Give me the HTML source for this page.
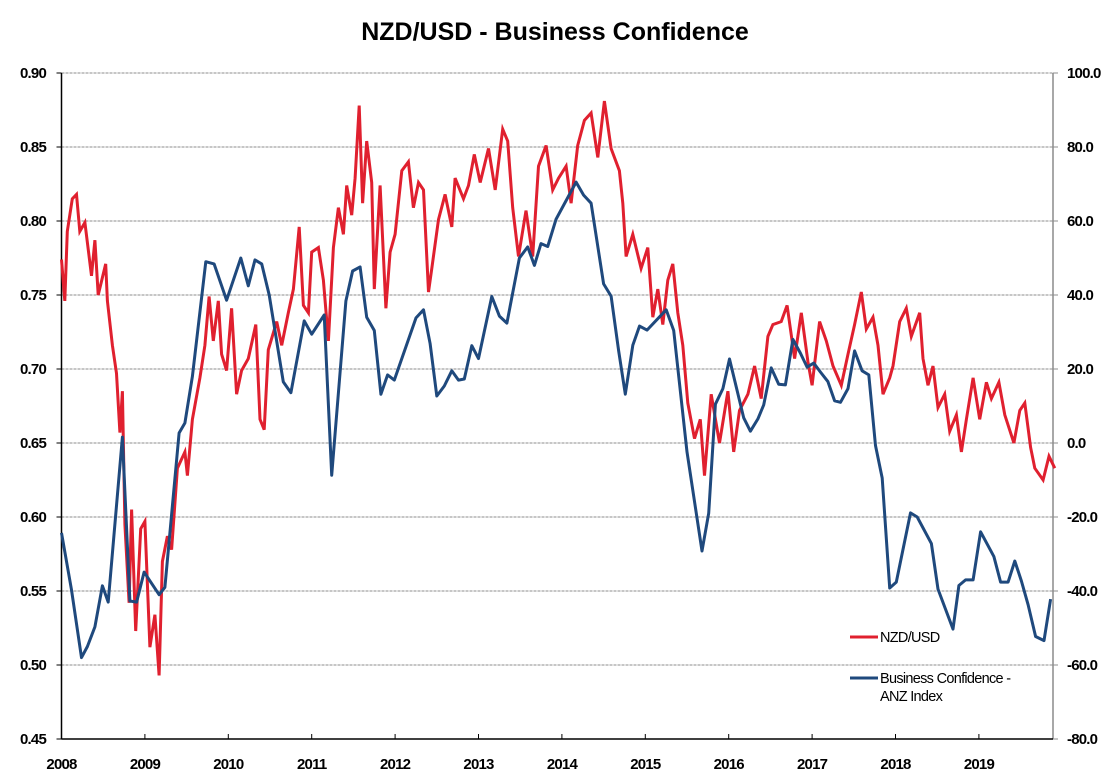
<!DOCTYPE html>
<html><head><meta charset="utf-8">
<style>
html,body{margin:0;padding:0;background:#fff;}
svg{display:block;font-family:"Liberation Sans",sans-serif;}
</style></head>
<body>
<svg id="chart" width="1110" height="782" viewBox="0 0 1110 782" xmlns="http://www.w3.org/2000/svg">
<text x="555" y="40" text-anchor="middle" font-size="25" font-weight="bold" letter-spacing="0">NZD/USD - Business Confidence</text>
<g id="grid"></g>
<g id="axes"></g>
<g id="series"></g>
<g>
<line x1="850" y1="637" x2="878" y2="637" stroke="#e0202f" stroke-width="3"/>
<text x="880" y="642" font-size="14.5" letter-spacing="-0.7">NZD/USD</text>
<line x1="850" y1="678" x2="878" y2="678" stroke="#1f497d" stroke-width="3"/>
<text x="880" y="683" font-size="14.5" letter-spacing="-0.7">Business Confidence -</text>
<text x="880" y="701" font-size="14.5" letter-spacing="-0.7">ANZ Index</text>
</g>
</svg>
<script>
const leftTicks=[0.45,0.50,0.55,0.60,0.65,0.70,0.75,0.80,0.85,0.90];
const rightTicks=[-80,-60,-40,-20,0,20,40,60,80,100];
const years=[2008,2009,2010,2011,2012,2013,2014,2015,2016,2017,2018,2019];
const nzdDates=[2008.00,2008.04,2008.07,2008.13,2008.18,2008.22,2008.28,2008.36,2008.40,2008.44,2008.53,2008.55,2008.61,2008.66,2008.70,2008.73,2008.76,2008.81,2008.84,2008.89,2008.95,2009.00,2009.06,2009.12,2009.17,2009.21,2009.27,2009.32,2009.39,2009.48,2009.51,2009.57,2009.66,2009.72,2009.77,2009.82,2009.88,2009.92,2009.98,2010.04,2010.10,2010.16,2010.24,2010.33,2010.38,2010.43,2010.48,2010.58,2010.64,2010.72,2010.78,2010.85,2010.90,2010.96,2011.00,2011.08,2011.14,2011.20,2011.26,2011.32,2011.38,2011.42,2011.48,2011.52,2011.57,2011.61,2011.66,2011.72,2011.75,2011.82,2011.89,2011.94,2012.00,2012.08,2012.16,2012.22,2012.28,2012.34,2012.40,2012.44,2012.52,2012.60,2012.68,2012.72,2012.82,2012.88,2012.95,2013.02,2013.12,2013.20,2013.29,2013.35,2013.41,2013.48,2013.57,2013.65,2013.72,2013.81,2013.89,2013.96,2014.05,2014.11,2014.19,2014.27,2014.35,2014.43,2014.51,2014.59,2014.69,2014.73,2014.77,2014.85,2014.95,2015.03,2015.09,2015.15,2015.21,2015.27,2015.33,2015.39,2015.45,2015.51,2015.59,2015.66,2015.71,2015.79,2015.89,2015.99,2016.06,2016.13,2016.23,2016.31,2016.39,2016.47,2016.53,2016.63,2016.70,2016.79,2016.87,2016.95,2017.00,2017.09,2017.17,2017.25,2017.35,2017.43,2017.51,2017.59,2017.65,2017.73,2017.79,2017.85,2017.93,2017.97,2018.05,2018.13,2018.19,2018.29,2018.33,2018.39,2018.45,2018.51,2018.59,2018.65,2018.73,2018.79,2018.85,2018.93,2019.01,2019.09,2019.15,2019.24,2019.31,2019.42,2019.49,2019.55,2019.62,2019.67,2019.77,2019.84,2019.91];
const nzdValues=[0.774,0.746,0.793,0.815,0.818,0.793,0.799,0.763,0.787,0.750,0.771,0.746,0.716,0.697,0.657,0.685,0.595,0.542,0.605,0.523,0.592,0.597,0.512,0.534,0.493,0.570,0.587,0.578,0.633,0.644,0.628,0.666,0.694,0.716,0.749,0.719,0.746,0.710,0.699,0.741,0.683,0.699,0.707,0.730,0.666,0.659,0.713,0.732,0.716,0.738,0.754,0.796,0.743,0.738,0.779,0.782,0.760,0.719,0.782,0.809,0.791,0.824,0.804,0.829,0.878,0.812,0.854,0.826,0.754,0.824,0.741,0.779,0.791,0.834,0.840,0.809,0.826,0.821,0.752,0.768,0.801,0.818,0.796,0.829,0.815,0.824,0.845,0.826,0.849,0.821,0.862,0.854,0.809,0.776,0.807,0.776,0.837,0.851,0.821,0.829,0.837,0.812,0.851,0.868,0.873,0.843,0.881,0.849,0.834,0.812,0.776,0.791,0.768,0.782,0.735,0.754,0.730,0.760,0.771,0.738,0.716,0.677,0.653,0.666,0.628,0.683,0.650,0.685,0.644,0.672,0.683,0.702,0.680,0.722,0.730,0.732,0.743,0.707,0.738,0.705,0.689,0.732,0.719,0.702,0.689,0.710,0.730,0.752,0.727,0.735,0.716,0.683,0.694,0.702,0.732,0.741,0.722,0.738,0.707,0.689,0.702,0.674,0.683,0.658,0.669,0.644,0.666,0.694,0.666,0.691,0.680,0.691,0.669,0.650,0.672,0.677,0.647,0.633,0.625,0.641,0.633];
const bcDates=[2008.00,2008.12,2008.24,2008.31,2008.40,2008.49,2008.56,2008.73,2008.82,2008.90,2008.99,2009.17,2009.24,2009.41,2009.48,2009.57,2009.73,2009.83,2009.98,2010.15,2010.24,2010.32,2010.40,2010.49,2010.66,2010.75,2010.91,2011.00,2011.15,2011.24,2011.41,2011.49,2011.58,2011.66,2011.75,2011.83,2011.91,2011.99,2012.25,2012.34,2012.42,2012.50,2012.59,2012.68,2012.76,2012.83,2012.92,2013.00,2013.16,2013.25,2013.34,2013.49,2013.59,2013.67,2013.75,2013.83,2013.93,2014.17,2014.26,2014.35,2014.50,2014.59,2014.68,2014.76,2014.85,2014.93,2015.02,2015.25,2015.34,2015.50,2015.68,2015.76,2015.84,2015.93,2016.01,2016.18,2016.26,2016.35,2016.42,2016.51,2016.60,2016.68,2016.77,2016.86,2016.94,2017.02,2017.10,2017.19,2017.27,2017.34,2017.43,2017.51,2017.60,2017.68,2017.76,2017.84,2017.93,2018.01,2018.18,2018.26,2018.43,2018.51,2018.69,2018.76,2018.84,2018.93,2019.02,2019.18,2019.26,2019.35,2019.43,2019.51,2019.59,2019.68,2019.78,2019.86];
const bcValues=[-24.3,-39.7,-58,-55,-49.7,-38.6,-43,1.6,-42.7,-43,-34.9,-41,-39,2.7,5.4,18,49,48.4,38.6,50,42.5,49.5,48.4,40,16.5,13.6,33,29.4,34.6,-8.7,38.4,46.5,47.6,34,30.4,13.2,18.4,17,33.8,36,26.9,12.7,15.4,19.5,17,17.3,26.3,22.8,39.6,34.3,32.4,50,53,48,53.9,53.1,60.5,70.5,67,64.8,43,39.7,25,13.2,26.4,31.6,30.5,36,30.4,-2.4,-29.2,-19,10.5,14.7,22.7,6.8,3.2,6.5,10.3,20.3,15.9,15.7,28,24.3,20.5,21.6,19.2,16.6,11.4,11,14.7,24.9,19.5,18.4,-0.7,-9.5,-39.2,-37.6,-18.9,-20,-27.2,-39.5,-50.3,-38.5,-37,-37,-24,-30.7,-37.6,-37.6,-31.9,-37.3,-43.7,-52.3,-53.4,-42.2];

const NS='http://www.w3.org/2000/svg';
const X0=61.5, X1=1053, Y0=73, Y1=739;
const xScale=t=>X0+(t-2008)*83.4;
const yL=v=>Y1-(v-0.45)/(0.45)*(Y1-Y0);
const yR=v=>Y1-(v+80)/180*(Y1-Y0);
function mk(tag,attrs,parent){const e=document.createElementNS(NS,tag);for(const k in attrs)e.setAttribute(k,attrs[k]);parent.appendChild(e);return e;}
const grid=document.getElementById('grid'), axes=document.getElementById('axes'), series=document.getElementById('series');

leftTicks.forEach((v,i)=>{
  const y=yL(v);
  if(i>0){const g=mk('line',{x1:X0,y1:y,x2:X1,y2:y,stroke:'#8c8c8c','stroke-width':1,'stroke-dasharray':'3,1'},grid);
  
  }
  const tk=mk('line',{x1:X0-5,y1:y,x2:X0,y2:y,stroke:'#000'},axes);
  
  
  const t=mk('text',{x:46,y:y+5,'text-anchor':'end','font-size':15,'font-weight':'bold','letter-spacing':'-0.8'},axes);
  t.textContent=v.toFixed(2);
  
  
});
rightTicks.forEach(v=>{
  const y=yR(v);
  const tk=mk('line',{x1:X1,y1:y,x2:X1+5,y2:y,stroke:'#8c8c8c'},axes);
  
  
  const t=mk('text',{x:1067,y:y+5,'text-anchor':'start','font-size':15,'font-weight':'bold','letter-spacing':'-0.8'},axes);
  t.textContent=v.toFixed(1);
  
  
});
years.forEach(yr=>{
  const x=xScale(yr);
  const tk=mk('line',{x1:x,y1:Y1-5,x2:x,y2:Y1,stroke:'#000'},axes);
  
  
  const t=mk('text',{x:x,y:769,'text-anchor':'middle','font-size':15,'font-weight':'bold','letter-spacing':'-0.8'},axes);
  t.textContent=yr;
  
  
});
const la=mk('line',{x1:X0,y1:Y0,x2:X0,y2:Y1,stroke:'#000','stroke-width':1.5},axes);


const ra=mk('line',{x1:X1,y1:Y0,x2:X1,y2:Y1,stroke:'#8c8c8c','stroke-width':1.5},axes);


const ba=mk('line',{x1:X0,y1:Y1,x2:X1,y2:Y1,stroke:'#000','stroke-width':1.5},axes);



const nzdPts=nzdDates.map((d,i)=>xScale(d).toFixed(1)+','+yL(nzdValues[i]).toFixed(1)).join(' ');
const p1=mk('polyline',{points:nzdPts,fill:'none',stroke:'#e0202f','stroke-width':3,'stroke-linejoin':'miter'},series);


const bcPts=bcDates.map((d,i)=>xScale(d).toFixed(1)+','+yR(bcValues[i]).toFixed(1)).join(' ');
const p2=mk('polyline',{points:bcPts,fill:'none',stroke:'#1f497d','stroke-width':3,'stroke-linejoin':'round'},series);


</script>
</body></html>
